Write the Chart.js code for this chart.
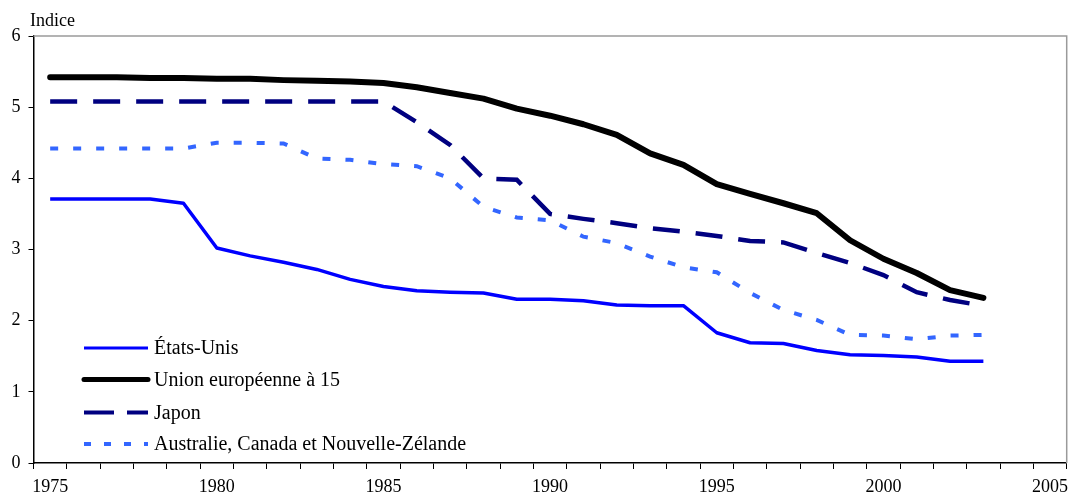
<!DOCTYPE html>
<html>
<head>
<meta charset="utf-8">
<script src="https://cdn.jsdelivr.net/npm/chart.js@4/dist/chart.umd.min.js"></script>
<style>
  html, body { margin: 0; padding: 0; background: #fff; }
  #wrap { width: 1068px; height: 499px; position: relative; }
</style>
</head>
<body>
<div id="wrap"><canvas id="c" width="1068" height="499"></canvas></div>
<script>
// ---- Data ----
const years = [];
for (let y = 1975; y <= 2005; y++) years.push(String(y));

const yTitle = 'Indice';

const etatsUnis = [3.71, 3.71, 3.71, 3.71, 3.65, 3.02, 2.91, 2.82, 2.72, 2.58,
                   2.48, 2.42, 2.40, 2.39, 2.30, 2.30, 2.28, 2.22, 2.21, 2.21,
                   1.83, 1.69, 1.68, 1.58, 1.52, 1.51, 1.49, 1.43, 1.43];
const ue15 = [5.42, 5.42, 5.42, 5.41, 5.41, 5.40, 5.40, 5.38, 5.37, 5.36,
              5.34, 5.28, 5.20, 5.12, 4.98, 4.88, 4.76, 4.61, 4.35, 4.19,
              3.92, 3.78, 3.65, 3.51, 3.13, 2.87, 2.67, 2.43, 2.32];
const japon = [5.08, 5.08, 5.08, 5.08, 5.08, 5.08, 5.08, 5.08, 5.08, 5.08,
               5.08, 4.79, 4.47, 4.00, 3.98, 3.50, 3.43, 3.37, 3.30, 3.25,
               3.19, 3.12, 3.10, 2.95, 2.81, 2.64, 2.40, 2.29, 2.21];
const acnz = [4.42, 4.42, 4.42, 4.42, 4.42, 4.50, 4.50, 4.49, 4.28, 4.26,
              4.20, 4.17, 4.00, 3.60, 3.45, 3.41, 3.18, 3.09, 2.90, 2.75,
              2.68, 2.39, 2.15, 2.01, 1.80, 1.79, 1.74, 1.79, 1.80];

const seriesNames = ['États-Unis', 'Union européenne à 15', 'Japon', 'Australie, Canada et Nouvelle-Zélande'];

const FONT = '"Liberation Serif", "Times New Roman", serif';

// ---- Plugins ----
const frameAndText = {
  id: 'frameAndText',
  afterDraw(chart) {
    const ctx = chart.ctx;
    const a = chart.chartArea;
    ctx.save();
    // gray top & right frame
    ctx.strokeStyle = '#9a9a9a';
    ctx.lineWidth = 1.5;
    ctx.beginPath();
    ctx.moveTo(a.left, a.top);
    ctx.lineTo(a.right, a.top);
    ctx.lineTo(a.right, a.bottom);
    ctx.stroke();
    // y title
    ctx.fillStyle = '#000';
    ctx.font = '18px ' + FONT;
    ctx.textAlign = 'left';
    ctx.textBaseline = 'alphabetic';
    ctx.fillText(yTitle, 30, 26);
    // legend inside plot
    const rows = [348, 379.5, 412.5, 444];
    chart.data.datasets.forEach((ds, i) => {
      const y = rows[i];
      ctx.save();
      ctx.strokeStyle = ds.borderColor;
      ctx.lineWidth = ds.legendWidth;
      ctx.setLineDash(ds.legendDash || []);
      ctx.lineCap = ds.borderCapStyle || 'butt';
      ctx.beginPath();
      ctx.moveTo(84, y);
      ctx.lineTo(148, y);
      ctx.stroke();
      ctx.restore();
      ctx.fillStyle = '#000';
      ctx.font = '20px ' + FONT;
      ctx.textBaseline = 'middle';
      ctx.fillText(ds.label, 154, y + 1);
    });
    ctx.restore();
  }
};

new Chart(document.getElementById('c'), {
  type: 'line',
  data: {
    labels: years,
    datasets: [
      { label: seriesNames[0], data: etatsUnis, borderColor: '#0000ff', borderWidth: 3.5,
        legendWidth: 3, pointRadius: 0, tension: 0, borderJoinStyle: 'round', fill: false },
      { label: seriesNames[1], data: ue15, borderColor: '#000000', borderWidth: 6,
        legendWidth: 5, borderCapStyle: 'round', pointRadius: 0, tension: 0, borderJoinStyle: 'round', fill: false },
      { label: seriesNames[2], data: japon, borderColor: '#000080', borderWidth: 4.5,
        borderDash: [27, 16], legendDash: [30, 13], legendWidth: 4, pointRadius: 0, tension: 0, fill: false },
      { label: seriesNames[3], data: acnz, borderColor: '#3366ff', borderWidth: 4,
        borderDash: [8, 15], legendDash: [7, 13], legendWidth: 4, pointRadius: 0, tension: 0, fill: false }
    ]
  },
  options: {
    responsive: false,
    animation: false,
    events: [],
    layout: { padding: { top: 36, right: 1.3, left: 0, bottom: 0 } },
    plugins: { legend: { display: false }, tooltip: { enabled: false } },
    scales: {
      x: {
        type: 'category',
        offset: true,
        grid: { offset: true, drawOnChartArea: false, drawTicks: true, tickLength: 6,
                color: '#000', tickColor: '#000', lineWidth: 1 },
        border: { display: true, color: '#000', width: 1.5 },
        ticks: {
          autoSkip: false, maxRotation: 0, minRotation: 0, padding: 7,
          color: '#000', font: { family: FONT, size: 18 },
          callback: function (v, i) { return i % 5 === 0 ? this.getLabelForValue(v) : ''; }
        },
        afterFit(s) { s.height = 36; s.paddingLeft = 0; s.paddingRight = 0; }
      },
      y: {
        min: 0, max: 6,
        grid: { drawOnChartArea: false, drawTicks: true, tickLength: 5,
                color: '#000', tickColor: '#000', lineWidth: 1 },
        border: { display: true, color: '#000', width: 1.5 },
        ticks: { stepSize: 1, padding: 8, color: '#000', font: { family: FONT, size: 18 } },
        afterFit(s) { s.width = 33.5; s.paddingTop = 0; s.paddingBottom = 0; }
      }
    }
  },
  plugins: [frameAndText]
});
</script>
</body>
</html>
